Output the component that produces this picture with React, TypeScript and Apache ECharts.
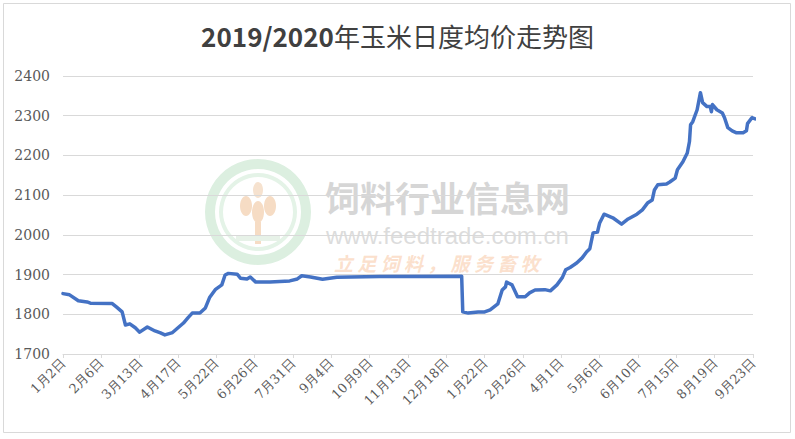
import React, { useEffect, useRef } from "react";
import * as echarts from "echarts";

const dates = [
  "2019-01-02", "2019-01-08", "2019-01-16", "2019-01-24", "2019-01-27", "2019-02-16", "2019-02-20", "2019-02-25",
  "2019-02-28", "2019-03-04", "2019-03-09", "2019-03-13", "2019-03-20", "2019-03-27", "2019-04-01", "2019-04-05",
  "2019-04-12", "2019-04-17", "2019-04-22", "2019-04-26", "2019-04-30", "2019-05-07", "2019-05-12", "2019-05-16",
  "2019-05-21", "2019-05-27", "2019-05-30", "2019-06-02", "2019-06-10", "2019-06-13", "2019-06-19", "2019-06-22",
  "2019-06-27", "2019-07-10", "2019-07-28", "2019-08-04", "2019-08-08", "2019-08-16", "2019-08-27", "2019-09-09",
  "2019-10-18", "2020-01-01", "2020-01-02", "2020-01-07", "2020-01-16", "2020-01-22", "2020-01-27", "2020-02-03",
  "2020-02-07", "2020-02-10", "2020-02-11", "2020-02-16", "2020-02-19", "2020-02-21", "2020-02-28", "2020-03-03",
  "2020-03-08", "2020-03-17", "2020-03-22", "2020-03-28", "2020-04-02", "2020-04-05", "2020-04-09", "2020-04-15",
  "2020-04-20", "2020-04-24", "2020-04-27", "2020-04-30", "2020-05-04", "2020-05-06", "2020-05-10", "2020-05-18",
  "2020-05-26", "2020-06-01", "2020-06-09", "2020-06-14", "2020-06-19", "2020-06-23", "2020-06-25", "2020-06-28",
  "2020-07-06", "2020-07-09", "2020-07-14", "2020-07-16", "2020-07-21", "2020-07-25", "2020-07-27", "2020-07-28",
  "2020-07-30", "2020-08-03", "2020-08-06", "2020-08-08", "2020-08-12", "2020-08-15", "2020-08-16", "2020-08-17",
  "2020-08-21", "2020-08-26", "2020-08-28", "2020-08-31", "2020-09-04", "2020-09-08", "2020-09-14", "2020-09-17",
  "2020-09-18", "2020-09-22", "2020-09-25",
];

const prices = [
  1852, 1849, 1834, 1831, 1828, 1827, 1818, 1806,
  1773, 1776, 1766, 1755, 1768, 1758, 1753, 1748,
  1754, 1766, 1778, 1791, 1803, 1803, 1816, 1843,
  1862, 1874, 1899, 1903, 1901, 1891, 1889, 1894,
  1881, 1881, 1884, 1889, 1897, 1894, 1888, 1893,
  1895, 1896, 1806, 1803, 1806, 1806, 1811, 1826,
  1861, 1869, 1881, 1874, 1856, 1844, 1844, 1854,
  1861, 1862, 1859, 1874, 1893, 1912, 1918, 1929,
  1942, 1957, 1965, 2005, 2007, 2030, 2052, 2043,
  2027, 2040, 2052, 2063, 2081, 2088, 2113, 2126,
  2128, 2133, 2143, 2164, 2184, 2206, 2235, 2277,
  2285, 2315, 2358, 2333, 2323, 2323, 2310, 2328,
  2315, 2307, 2295, 2270, 2262, 2257, 2257, 2262,
  2280, 2295, 2292,
];

const tickLabels = [
  "1月2日", "2月6日", "3月13日", "4月17日", "5月22日", "6月26日", "7月31日", "9月4日", "10月9日", "11月13日",
  "12月18日", "1月22日", "2月26日", "4月1日", "5月6日", "6月10日", "7月15日", "8月19日", "9月23日",
];

const yTicks = [1700, 1800, 1900, 2000, 2100, 2200, 2300, 2400];

const titleYears = "2019/2020";
const titleRest = "年玉米日度均价走势图";
const START = Date.parse("2019-01-02");
const dayIndex = (d: string) => Math.round((Date.parse(d) - START) / 86400000);

export default function App() {
  const ref = useRef<HTMLDivElement>(null);
  useEffect(() => {
    if (!ref.current) return;
    const chart = echarts.init(ref.current, null, { renderer: "svg" });
    const step = 35;
    const seriesData = dates.map((d, i) => [dayIndex(d), prices[i]]);
    chart.setOption({
      animation: false,
      backgroundColor: "#ffffff",
      title: {
        text: `{a|${titleYears}}{b|${titleRest}}`,
        left: "center",
        top: 17,
        textStyle: {
          rich: {
            a: {
              fontFamily: "Noto Sans CJK SC",
              fontSize: 26,
              fontWeight: "bold",
              color: "#404040",
            },
            b: {
              fontFamily: "Noto Sans CJK SC",
              fontSize: 26,
              fontWeight: "normal",
              color: "#404040",
            },
          },
        },
      },
      graphic: [
        {
          type: "rect",
          shape: { x: 3.5, y: 3.5, width: 787, height: 429 },
          style: { fill: "none", stroke: "#d9d9d9", lineWidth: 1 },
          silent: true,
          z: -10,
        },
        {
          type: "group",
          silent: true,
          z: -5,
          children: [
            { type: "ring", shape: { cx: 258, cy: 212, r: 53, r0: 43 }, style: { fill: "#dcefe0" } },
            { type: "ring", shape: { cx: 258, cy: 212, r: 39, r0: 35 }, style: { fill: "#e4f3e7" } },
            { type: "ellipse", shape: { cx: 258, cy: 190, rx: 5, ry: 8 }, style: { fill: "#f6e2cf" } },
            { type: "ellipse", shape: { cx: 246, cy: 206, rx: 6, ry: 10 }, style: { fill: "#f6dcc4" } },
            { type: "ellipse", shape: { cx: 270, cy: 206, rx: 6, ry: 10 }, style: { fill: "#f6dcc4" } },
            { type: "ellipse", shape: { cx: 258, cy: 212, rx: 6, ry: 11 }, style: { fill: "#f6dcc4" } },
            { type: "rect", shape: { x: 255, y: 222, width: 6, height: 22 }, style: { fill: "#f6dcc4" } },
            { type: "rect", shape: { x: 236, y: 236, width: 44, height: 5 }, style: { fill: "#e7f2e8" } },
            {
              type: "text",
              x: 325,
              y: 196,
              style: {
                text: "饲料行业信息网",
                font: "bold 35px Noto Sans CJK SC",
                fill: "#cfcfcf",
                opacity: 0.85,
                verticalAlign: "middle",
              },
            },
            {
              type: "text",
              x: 326,
              y: 235,
              style: {
                text: "www.feedtrade.com.cn",
                font: "24px Liberation Sans",
                fill: "#d6d6d6",
                opacity: 0.85,
                verticalAlign: "middle",
              },
            },
            {
              type: "text",
              x: 334,
              y: 262,
              style: {
                text: "立 足 饲 料 ， 服 务 畜 牧",
                font: "italic bold 19px Noto Sans CJK SC",
                fill: "#fbdcc6",
                opacity: 0.9,
                verticalAlign: "middle",
              },
            },
          ],
        },
      ],
      grid: { left: 63, right: 42, top: 76, bottom: 85, containLabel: false },
      xAxis: {
        type: "value",
        min: 0,
        max: step * (tickLabels.length - 1),
        interval: step,
        axisLine: { show: true, lineStyle: { color: "#d9d9d9", width: 1 } },
        axisTick: { show: true, length: 4, lineStyle: { color: "#d9d9d9" } },
        splitLine: { show: false },
        axisLabel: {
          rotate: 45,
          margin: 7,
          fontFamily: "DejaVu Serif",
          fontSize: 13,
          color: "#595959",
          formatter: (v: number) => tickLabels[Math.round(v / step)] ?? "",
        },
      },
      yAxis: {
        type: "value",
        min: yTicks[0],
        max: yTicks[yTicks.length - 1],
        interval: 100,
        axisLine: { show: false },
        axisTick: { show: false },
        splitLine: { show: true, lineStyle: { color: "#d9d9d9", width: 1 } },
        axisLabel: {
          margin: 13,
          fontFamily: "DejaVu Serif",
          fontSize: 14,
          color: "#595959",
          formatter: (v: number) => String(v),
        },
      },
      series: [
        {
          type: "line",
          data: seriesData,
          showSymbol: false,
          symbol: "none",
          clip: false,
          lineStyle: { color: "#4472C4", width: 3.5, join: "round", cap: "round" },
          z: 5,
        },
      ],
    });
    return () => chart.dispose();
  }, []);
  return (
    <div
      ref={ref}
      style={{ position: "absolute", left: 0, top: 0, width: 795, height: 439 }}
    />
  );
}
